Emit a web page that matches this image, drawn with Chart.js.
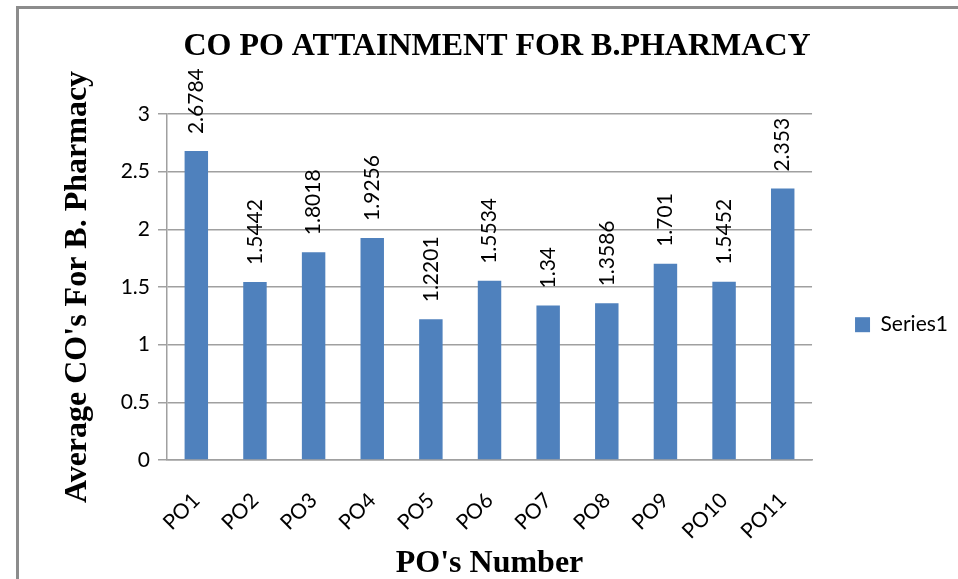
<!DOCTYPE html>
<html>
<head>
<meta charset="utf-8">
<title>CO PO Attainment</title>
<script src="https://cdn.jsdelivr.net/npm/chart.js@4.4.1/dist/chart.umd.min.js"></script>
<style>
  html, body { margin: 0; padding: 0; background: #fff; overflow: hidden; }
  #wrap { position: relative; width: 958px; height: 579px; overflow: hidden; }
  #frame {
    position: absolute; left: 16px; top: 6px; width: 1000px; height: 640px;
    border-left: 3px solid #8c8c8c; border-top: 3px solid #8c8c8c;
    pointer-events: none;
  }
</style>
</head>
<body>
<div id="wrap">
  <canvas id="poChart" width="958" height="579"></canvas>
  <div id="frame"></div>
</div>
<script>
// chart data
const poLabels = ["PO1", "PO2", "PO3", "PO4", "PO5", "PO6", "PO7", "PO8", "PO9", "PO10", "PO11"];
const avgValues = [2.6784, 1.5442, 1.8018, 1.9256, 1.2201, 1.5534, 1.34, 1.3586, 1.701, 1.5452, 2.353];
const yTicks = [0, 0.5, 1, 1.5, 2, 2.5, 3];

const serif = "'Liberation Serif', 'Times New Roman', serif";
const sans = "Lato, 'Open Sans', sans-serif";

// draws the value above each bar, rotated like the original
const barValueLabels = {
  id: "barValueLabels",
  afterDatasetsDraw(chart) {
    const ctx = chart.ctx;
    const meta = chart.getDatasetMeta(0);
    ctx.save();
    ctx.font = "21px " + sans;
    ctx.fillStyle = "#000";
    ctx.textAlign = "left";
    ctx.textBaseline = "middle";
    meta.data.forEach((bar, i) => {
      ctx.save();
      ctx.translate(bar.x, bar.y - 17);
      ctx.rotate(-Math.PI / 2);
      ctx.fillText(String(avgValues[i]), 0, 0);
      ctx.restore();
    });
    ctx.restore();
  }
};

const ctx = document.getElementById("poChart").getContext("2d");
new Chart(ctx, {
  type: "bar",
  data: {
    labels: poLabels,
    datasets: [{
      label: "Series1",
      data: avgValues,
      backgroundColor: "#4F81BD",
      barPercentage: 0.4,
      categoryPercentage: 1
    }]
  },
  options: {
    responsive: false,
    animation: false,
    layout: { padding: { left: 36, right: 0, top: 0, bottom: -6 } },
    plugins: {
      title: {
        display: true,
        text: "CO PO ATTAINMENT FOR B.PHARMACY",
        color: "#000",
        font: { family: serif, size: 32, weight: "bold" },
        padding: { top: 28, bottom: 47.6 }
      },
      legend: {
        position: "right",
        maxWidth: 148,
        title: { display: true, text: " ", padding: { top: 0, bottom: 50 } },
        labels: {
          color: "#000",
          boxWidth: 15,
          boxHeight: 15,
          padding: 43,
          font: { family: sans, size: 21 }
        }
      },
      tooltip: { enabled: false }
    },
    scales: {
      x: {
        grid: { display: false },
        border: { color: "#a0a0a0", width: 1.5 },
        ticks: {
          color: "#000",
          maxRotation: 45,
          minRotation: 45,
          padding: 20,
          font: { family: sans, size: 21 }
        },
        title: {
          display: true,
          text: "PO's Number",
          color: "#000",
          font: { family: serif, size: 32, weight: "bold" },
          padding: { top: 0, bottom: 2 }
        },
        afterFit: s => { s.height = 125; }
      },
      y: {
        min: 0,
        max: 3,
        afterBuildTicks: s => { s.ticks = yTicks.map(v => ({ value: v })); },
        grid: { color: "#a0a0a0", lineWidth: 1.5, tickLength: 9 },
        border: { color: "#a0a0a0", width: 1.5 },
        ticks: {
          color: "#000",
          padding: 8,
          font: { family: sans, size: 21 },
          callback: v => String(v)
        },
        title: {
          display: true,
          text: "Average CO's For B. Pharmacy",
          color: "#000",
          font: { family: serif, size: 32, weight: "bold" },
          padding: { top: 23, bottom: 4 }
        },
        afterFit: s => { s.width = 131; }
      }
    }
  },
  plugins: [barValueLabels]
});
</script>
</body>
</html>
